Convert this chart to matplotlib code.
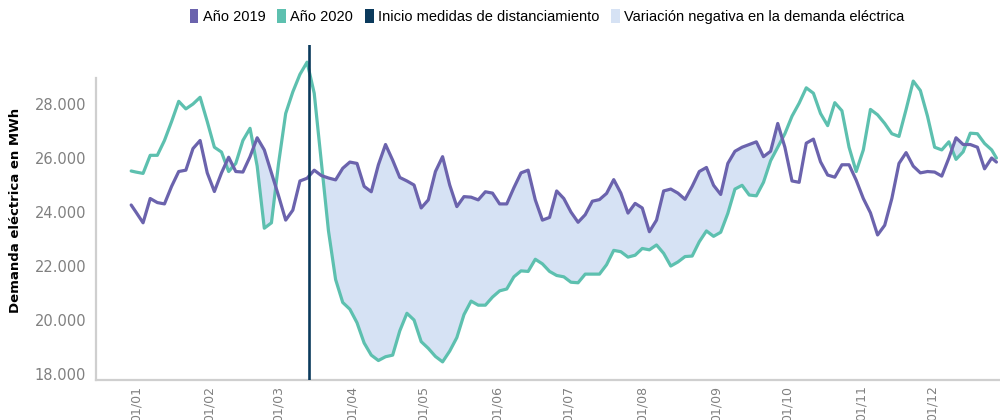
import matplotlib
matplotlib.use("Agg")
import matplotlib.pyplot as plt
from matplotlib.patches import Patch
from matplotlib.ticker import FuncFormatter, FixedLocator

# ---------------- data ----------------
days = [-2] + list(range(0, 361, 3)) + [362]

demand_2019 = [
    24260, 24000, 23600, 24500, 24350, 24300, 24950, 25500, 25550, 26350, 26650,
    25450, 24760, 25450, 26030, 25500, 25480, 26050, 26750, 26300, 25450, 24600,
    23700, 24070, 25150, 25250, 25550, 25350, 25260, 25190, 25620, 25850, 25800,
    24950, 24750, 25750, 26500, 25920, 25280, 25150, 25000, 24150, 24450, 25500,
    26050, 25000, 24200, 24570, 24550, 24450, 24750, 24700, 24300, 24300, 24900,
    25450, 25550, 24450, 23700, 23800, 24780, 24500, 24000, 23620, 23900, 24400,
    24460, 24690, 25200, 24700, 23960, 24320, 24150, 23270, 23700, 24780, 24850,
    24700, 24470, 24950, 25500, 25650, 24990, 24650, 25800, 26250, 26400, 26500,
    26600, 26050, 26250, 27280, 26400, 25150, 25100, 26550, 26700, 25860, 25370,
    25290, 25750, 25750, 25180, 24500, 23970, 23150, 23510, 24500, 25800, 26200,
    25700, 25450, 25500, 25480, 25330, 26000, 26750, 26500, 26500, 26400, 25600,
    26000, 25850,
]

demand_2020 = [
    25520, 25480, 25430, 26100, 26100, 26650, 27350, 28100, 27820, 28000, 28250,
    27350, 26400, 26220, 25500, 25800, 26650, 27100, 25700, 23400, 23600, 25800,
    27650, 28450, 29100, 29550, 28400, 25850, 23300, 21500, 20650, 20400, 19900,
    19150, 18700, 18500, 18640, 18700, 19600, 20250, 20000, 19200, 18950, 18650,
    18450, 18850, 19350, 20200, 20700, 20550, 20550, 20850, 21080, 21150, 21600,
    21820, 21800, 22250, 22080, 21800, 21650, 21600, 21400, 21380, 21700, 21700,
    21700, 22050, 22580, 22530, 22330, 22400, 22650, 22600, 22780, 22470, 22000,
    22150, 22350, 22370, 22900, 23300, 23100, 23250, 23950, 24850, 24990, 24630,
    24600, 25100, 25900, 26400, 26900, 27550, 28030, 28600, 28400, 27650, 27200,
    28050, 27750, 26400, 25500, 26300, 27800, 27600, 27280, 26900, 26800, 27800,
    28850, 28500, 27550, 26400, 26300, 26600, 25950, 26230, 26920, 26900, 26540,
    26300, 26000,
]

month_start_days = [0, 31, 60, 91, 121, 152, 182, 213, 244, 274, 305, 335]
month_labels = ["01/01", "01/02", "01/03", "01/04", "01/05", "01/06",
                "01/07", "01/08", "01/09", "01/10", "01/11", "01/12"]
y_ticks = [18000, 20000, 22000, 24000, 26000, 28000]
distancing_day = 73

series_labels = ["Año 2019", "Año 2020", "Inicio medidas de distanciamiento",
                 "Variación negativa en la demanda eléctrica"]

# ---------------- style ----------------
c2019 = "#6b63ad"
c2020 = "#5dc0af"
cline = "#0b3a5c"
cfill = "#d6e2f4"
grey = "#808080"

fig = plt.figure(figsize=(10, 4.2), dpi=100)
ax = fig.add_axes([0.096, 0.0952, 0.904, 0.7976])

ax.fill_between(days, demand_2019, demand_2020,
                where=[b < a for a, b in zip(demand_2019, demand_2020)],
                interpolate=True, color=cfill, linewidth=0, zorder=1)
ax.plot(days, demand_2020, color=c2020, lw=2.3, zorder=2,
        solid_joinstyle="round", solid_capstyle="round")
ax.plot(days, demand_2019, color=c2019, lw=2.3, zorder=3,
        solid_joinstyle="round", solid_capstyle="round")
ax.axvline(distancing_day, color=cline, lw=1.9, zorder=4)

ax.set_xlim(-16.8, 363.5)
ax.set_ylim(17778, 30185)

for s in ["top", "right"]:
    ax.spines[s].set_visible(False)
for s in ["left", "bottom"]:
    ax.spines[s].set_color("#cfcfcf")
    ax.spines[s].set_linewidth(1.6)
ax.spines["left"].set_bounds(17778, 28963)

ax.yaxis.set_major_locator(FixedLocator(y_ticks))
ax.yaxis.set_major_formatter(FuncFormatter(lambda v, p: f"{v:,.0f}".replace(",", ".")))
ax.set_xticks(month_start_days)
ax.set_xticklabels(month_labels, rotation=90, va="top", ha="center")
ax.tick_params(axis="y", length=0, pad=7, labelsize=10.5, labelcolor=grey)
ax.tick_params(axis="x", length=0, pad=4, labelsize=9, labelcolor=grey)

fig.text(0.016, 0.5, "Demanda eléctrica en MWh", rotation=90, ha="center",
         va="center", fontsize=9.5, fontweight="bold", color="black")

handles = [Patch(facecolor=c2019, edgecolor="none"),
           Patch(facecolor=c2020, edgecolor="none"),
           Patch(facecolor=cline, edgecolor="none"),
           Patch(facecolor=cfill, edgecolor="none")]
fig.legend(handles, series_labels, loc="center", bbox_to_anchor=(0.547, 0.961),
           ncol=4, frameon=False, handlelength=0.6, handleheight=1.1,
           handletextpad=0.3, columnspacing=0.8,
           prop={"family": ["Liberation Sans", "DejaVu Sans"], "size": 10.5})

fig.savefig("out.png", dpi=100)
